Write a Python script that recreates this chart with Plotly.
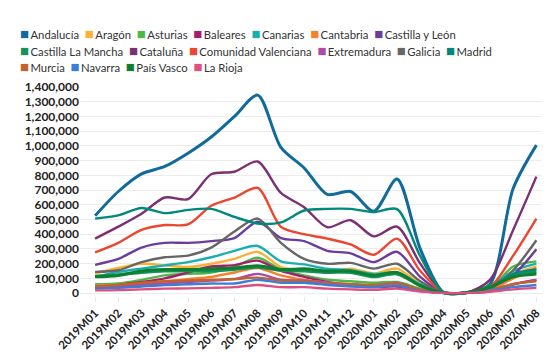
import plotly.graph_objects as go

months = ["2019M01", "2019M02", "2019M03", "2019M04", "2019M05", "2019M06", "2019M07",
          "2019M08", "2019M09", "2019M10", "2019M11", "2019M12", "2020M01", "2020M02",
          "2020M03", "2020M04", "2020M05", "2020M06", "2020M07", "2020M08"]

regions = ["Andalucía", "Aragón", "Asturias", "Baleares", "Canarias", "Cantabria",
           "Castilla y León", "Castilla La Mancha", "Cataluña", "Comunidad Valenciana",
           "Extremadura", "Galicia", "Madrid", "Murcia", "Navarra", "País Vasco", "La Rioja"]

colors = ["#106a9c", "#fbb034", "#4db848", "#a61e6b", "#1aafaf", "#f7812b",
          "#6c3c9c", "#17915a", "#7a3072", "#ec4530", "#a94ca6", "#666666",
          "#00897b", "#c0632d", "#3b7dd8", "#0d7f31", "#dc4f7e"]

# values in thousands
andalucia = [525, 690, 810, 860, 950, 1060, 1200, 1345, 990, 850, 670, 690, 556, 775, 300, 5, 4, 60, 710, 1005]
aragon = [133, 170, 199, 188, 177, 199, 232, 280, 177, 155, 144, 166, 133, 166, 60, 2, 2, 30, 130, 180]
asturias = [60, 65, 90, 120, 130, 140, 180, 240, 160, 120, 90, 80, 70, 75, 30, 2, 2, 30, 180, 215]
baleares = [40, 55, 75, 100, 140, 180, 190, 220, 150, 110, 75, 50, 40, 45, 15, 1, 1, 10, 60, 90]
canarias = [111, 144, 166, 188, 210, 243, 287, 320, 215, 195, 165, 155, 130, 140, 60, 2, 2, 40, 150, 200]
cantabria = [50, 55, 65, 80, 95, 110, 140, 170, 120, 90, 70, 60, 50, 60, 20, 1, 1, 20, 100, 170]
castilla_leon = [192, 232, 309, 341, 341, 353, 374, 484, 374, 353, 287, 270, 210, 280, 110, 3, 3, 40, 122, 297]
castilla_mancha = [115, 125, 140, 150, 150, 150, 160, 175, 155, 150, 140, 140, 110, 130, 50, 2, 2, 50, 120, 145]
cataluna = [370, 451, 539, 649, 638, 807, 824, 894, 680, 583, 447, 495, 385, 451, 200, 5, 4, 90, 429, 791]
valenciana = [276, 341, 429, 462, 466, 593, 649, 714, 450, 400, 370, 330, 260, 370, 150, 5, 4, 40, 254, 506]
extremadura = [35, 45, 55, 65, 75, 85, 95, 130, 90, 85, 70, 60, 50, 70, 20, 1, 1, 20, 60, 90]
galicia = [144, 155, 210, 243, 254, 309, 418, 506, 341, 232, 199, 205, 166, 199, 80, 3, 3, 30, 155, 359]
madrid = [506, 528, 578, 543, 565, 572, 517, 473, 480, 561, 572, 572, 550, 570, 250, 5, 4, 30, 130, 160]
murcia = [45, 55, 70, 80, 85, 90, 95, 105, 85, 80, 65, 60, 55, 65, 25, 1, 1, 20, 60, 80]
navarra = [30, 35, 45, 55, 60, 65, 65, 90, 70, 70, 55, 45, 40, 50, 15, 1, 1, 15, 40, 55]
pais_vasco = [110, 120, 150, 160, 160, 165, 170, 185, 160, 165, 150, 150, 120, 140, 50, 2, 2, 40, 110, 130]
la_rioja = [18, 20, 25, 30, 32, 35, 40, 55, 40, 40, 30, 25, 22, 30, 10, 1, 1, 10, 25, 35]

series = [andalucia, aragon, asturias, baleares, canarias, cantabria, castilla_leon,
          castilla_mancha, cataluna, valenciana, extremadura, galicia, madrid, murcia,
          navarra, pais_vasco, la_rioja]

widths = {0: 3, 7: 3, 15: 3}

fig = go.Figure()
for i, (name, vals, col) in enumerate(zip(regions, series, colors)):
    fig.add_trace(go.Scatter(
        x=list(range(len(months))), y=[v * 1000 for v in vals], name=name,
        mode="lines", line=dict(color=col, width=widths.get(i, 2.4), shape="spline", smoothing=0.8),
        showlegend=False))

# legend built as one multi-line text
rows = [range(0, 7), range(7, 13), range(13, 17)]
ML, MT, PW, PH = 72, 79, 468, 216
lines = []
for r in rows:
    parts = []
    for i in r:
        parts.append(f"<span style='color:{colors[i]};font-size:15px'>■</span>"
                     f"<span style='font-size:11.3px'>&#8201;{regions[i]}</span>")
    lines.append("<span style='font-size:11.3px'>&nbsp;&nbsp;</span>".join(parts))
fig.add_annotation(text="<br>".join(lines), xref="paper", yref="paper", x=(10 - ML) / PW,
                   y=(MT + PH - 12) / PH, xanchor="left", yanchor="top", align="left",
                   showarrow=False, font=dict(family="Lato", size=12.8, color="#333"))

fig.update_layout(
    width=550, height=354,
    margin=dict(l=ML, r=550 - ML - PW, t=MT, b=354 - MT - PH),
    plot_bgcolor="white", paper_bgcolor="white",
    font=dict(family="Lato", size=12, color="#222"),
)
fig.update_xaxes(
    tickmode="array", tickvals=list(range(len(months))), ticktext=months,
    tickangle=-45, range=[-0.65, 19.5], showgrid=False, zeroline=False,
    ticks="outside", ticklen=5, tickcolor="#e6e6e6", showline=False,
    tickfont=dict(family="Lato", size=11.5, color="#222", weight="bold"),
)
fig.update_yaxes(
    range=[-20000, 1400000], dtick=100000, tickformat=",d",
    showgrid=True, gridcolor="#ececec", gridwidth=1, zeroline=False,
    tickfont=dict(family="Lato", size=12, color="#222", weight="bold"),
)

fig.write_html("out.html")
